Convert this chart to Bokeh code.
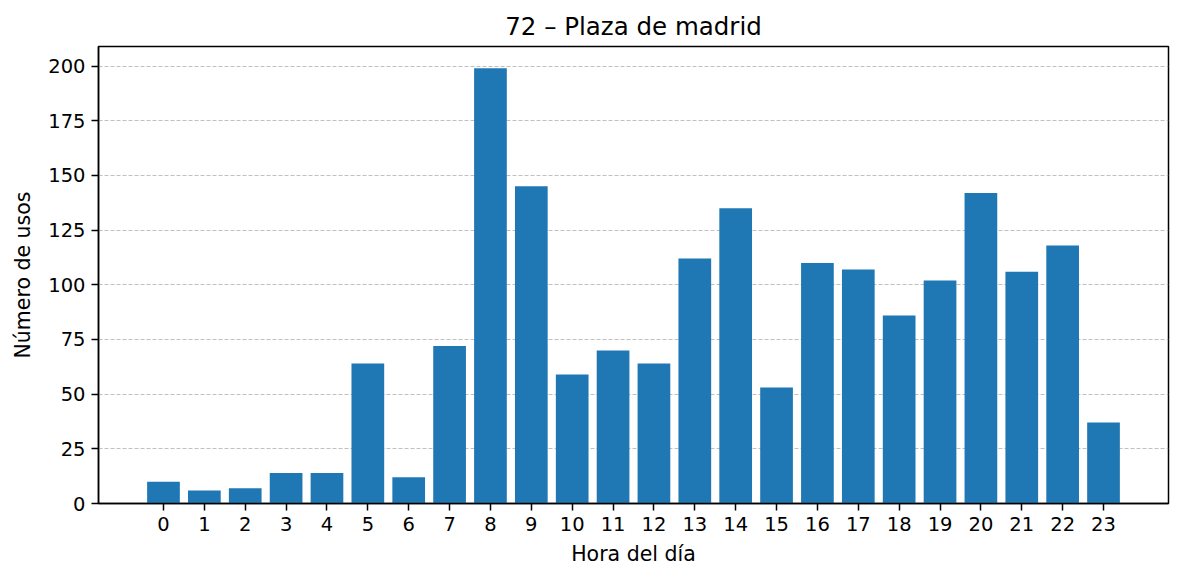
from bokeh.plotting import figure
from bokeh.models import Range1d, FixedTicker
from bokeh.embed import file_html
from bokeh.resources import INLINE

hours = list(range(24))
usos = [10, 6, 7, 14, 14, 64, 12, 72, 199, 145, 59, 70, 64, 112, 135, 53, 110, 107, 86, 102, 142, 106, 118, 37]
y_ticks = [0, 25, 50, 75, 100, 125, 150, 175, 200]

FONT = "DejaVu Sans"

p = figure(
    frame_width=1070, frame_height=457,
    output_backend="svg", toolbar_location=None,
    title="72 – Plaza de madrid",
    x_range=Range1d(-1.59, 24.59), y_range=Range1d(0, 208.95),
)
p.min_border_left = 98
p.min_border_right = 16
p.min_border_top = 46
p.min_border_bottom = 78

p.vbar(x=hours, top=usos, width=0.8, color="#1f77b4", line_color=None)

p.title.align = "center"
p.title.text_font = FONT
p.title.text_font_size = "24.5px"
p.title.text_font_style = "normal"
p.title.text_color = "black"
p.title.offset = 0
p.title.standoff = 11

p.outline_line_color = "black"
p.outline_line_width = 1.5
p.outline_line_alpha = 1

p.xgrid.visible = False
p.ygrid.grid_line_color = "#b0b0b0"
p.ygrid.grid_line_width = 0.8
p.ygrid.grid_line_dash = "4 2"

p.xaxis.ticker = FixedTicker(ticks=hours)
p.yaxis.ticker = FixedTicker(ticks=y_ticks)
p.xaxis.axis_label = "Hora del día"
p.yaxis.axis_label = "Número de usos"

for ax in (p.xaxis[0], p.yaxis[0]):
    ax.axis_line_color = "black"
    ax.axis_line_width = 1.5
    ax.major_tick_line_color = "black"
    ax.major_tick_line_width = 1.5
    ax.major_tick_out = 7
    ax.major_tick_in = 0
    ax.minor_tick_line_color = None
    ax.major_label_text_font = FONT
    ax.major_label_text_font_size = "19.5px"
    ax.major_label_text_color = "black"
    ax.major_label_standoff = 6
    ax.axis_label_text_font = FONT
    ax.axis_label_text_font_size = "20.5px"
    ax.axis_label_text_font_style = "normal"
    ax.axis_label_text_color = "black"
    ax.axis_label_standoff = 8
p.yaxis.axis_label_standoff = 10

open("out.html", "w").write(file_html(p, INLINE))
